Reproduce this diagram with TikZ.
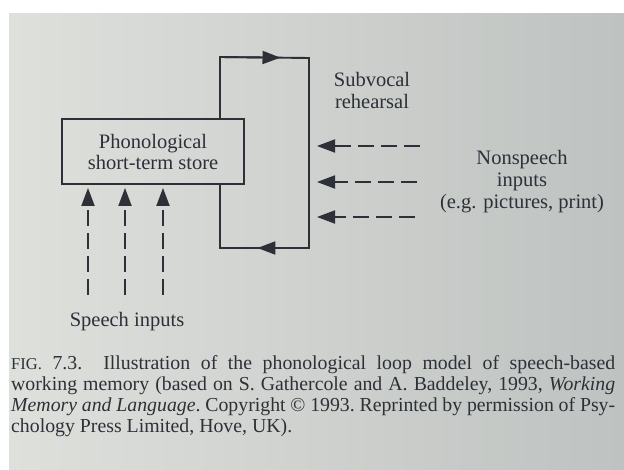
\documentclass[tikz,border=0pt]{standalone}
\usepackage{fontspec}
\setmainfont{Liberation Serif}
\usetikzlibrary{arrows.meta,calc}
\definecolor{ink}{RGB}{45,48,55}
\definecolor{paperL}{RGB}{222,224,220}
\definecolor{paperR}{RGB}{190,194,192}
\begin{document}
\begin{tikzpicture}[x=1pt,y=-1pt,
  every node/.style={text=ink,font=\fontsize{20.5}{22}\selectfont},
  wire/.style={draw=ink,line width=1.9pt},
  tip/.style={-{Triangle[length=18pt,width=13pt]}},
  dsh/.style={wire,dash pattern=on 16pt off 7pt},
  storebox/.style={draw=ink,line width=1.9pt,minimum width=182pt,minimum height=65pt,align=center,inner sep=0pt}]
\useasboundingbox (0,0) rectangle (624,470);
\fill[white] (0,0) rectangle (624,470);
\shade[left color=paperL,right color=paperR] (9,14) rectangle (624,470);
% store
\node[storebox] (box) at (153,151.5) {Phonological\\[-1pt]short-term store};
% loop
\coordinate (tl) at (220,57);
\coordinate (tr) at (309,58);
\coordinate (br) at (309,248);
\coordinate (bl) at (220,248);
\draw[wire,line join=miter] (box.north -| tl) -- (tl) -- (tr) -- (br) -- (bl) -- (box.south -| bl);
\draw[wire,tip] (tl) -- ($(tl)!0.68!(tr)$);
\draw[wire,tip] (br) -- ($(br)!0.58!(bl)$);
% labels
\node[align=center] (sub) at (372,90) {Subvocal\\rehearsal};
\node[align=center] (non) at (522,182) {Nonspeech\\inputs\\(e.g. pictures, print)};
\node (sp) at (127,322) {Speech inputs};
% nonspeech arrows
\coordinate (n1s) at (420,146); \coordinate (n1e) at (317,146);
\coordinate (n2s) at (417,182); \coordinate (n2e) at (317,182);
\coordinate (n3s) at (415,217); \coordinate (n3e) at (317,217);
\draw[dsh,tip] (n1s) -- (n1e);
\draw[dsh,tip] (n2s) -- (n2e);
\draw[dsh,tip] (n3s) -- (n3e);
% speech arrows
\coordinate (s1) at (88,295);
\coordinate (s2) at (125,295);
\coordinate (s3) at (163,295);
\draw[dsh,tip,shorten >=3pt] (s1) -- (box.south -| s1);
\draw[dsh,tip,shorten >=3pt] (s2) -- (box.south -| s2);
\draw[dsh,tip,shorten >=3pt] (s3) -- (box.south -| s3);
% caption
\node[anchor=north west,inner sep=0pt,text width=604pt,align=justify,
  font=\fontsize{19.8}{21}\selectfont\frenchspacing] (cap) at (11,355)
  {{\fontsize{16.5}{21}\selectfont FIG.} 7.3.\ \ Illustration of the phonological loop model of speech-based\linebreak
   working memory (based on S. Gathercole and A. Baddeley, 1993, \textit{Working}\linebreak
   \textit{Memory and Language}. Copyright \textcopyright\ 1993. Reprinted by permission of Psy-\linebreak
   chology Press Limited, Hove, UK).};
\end{tikzpicture}
\end{document}
